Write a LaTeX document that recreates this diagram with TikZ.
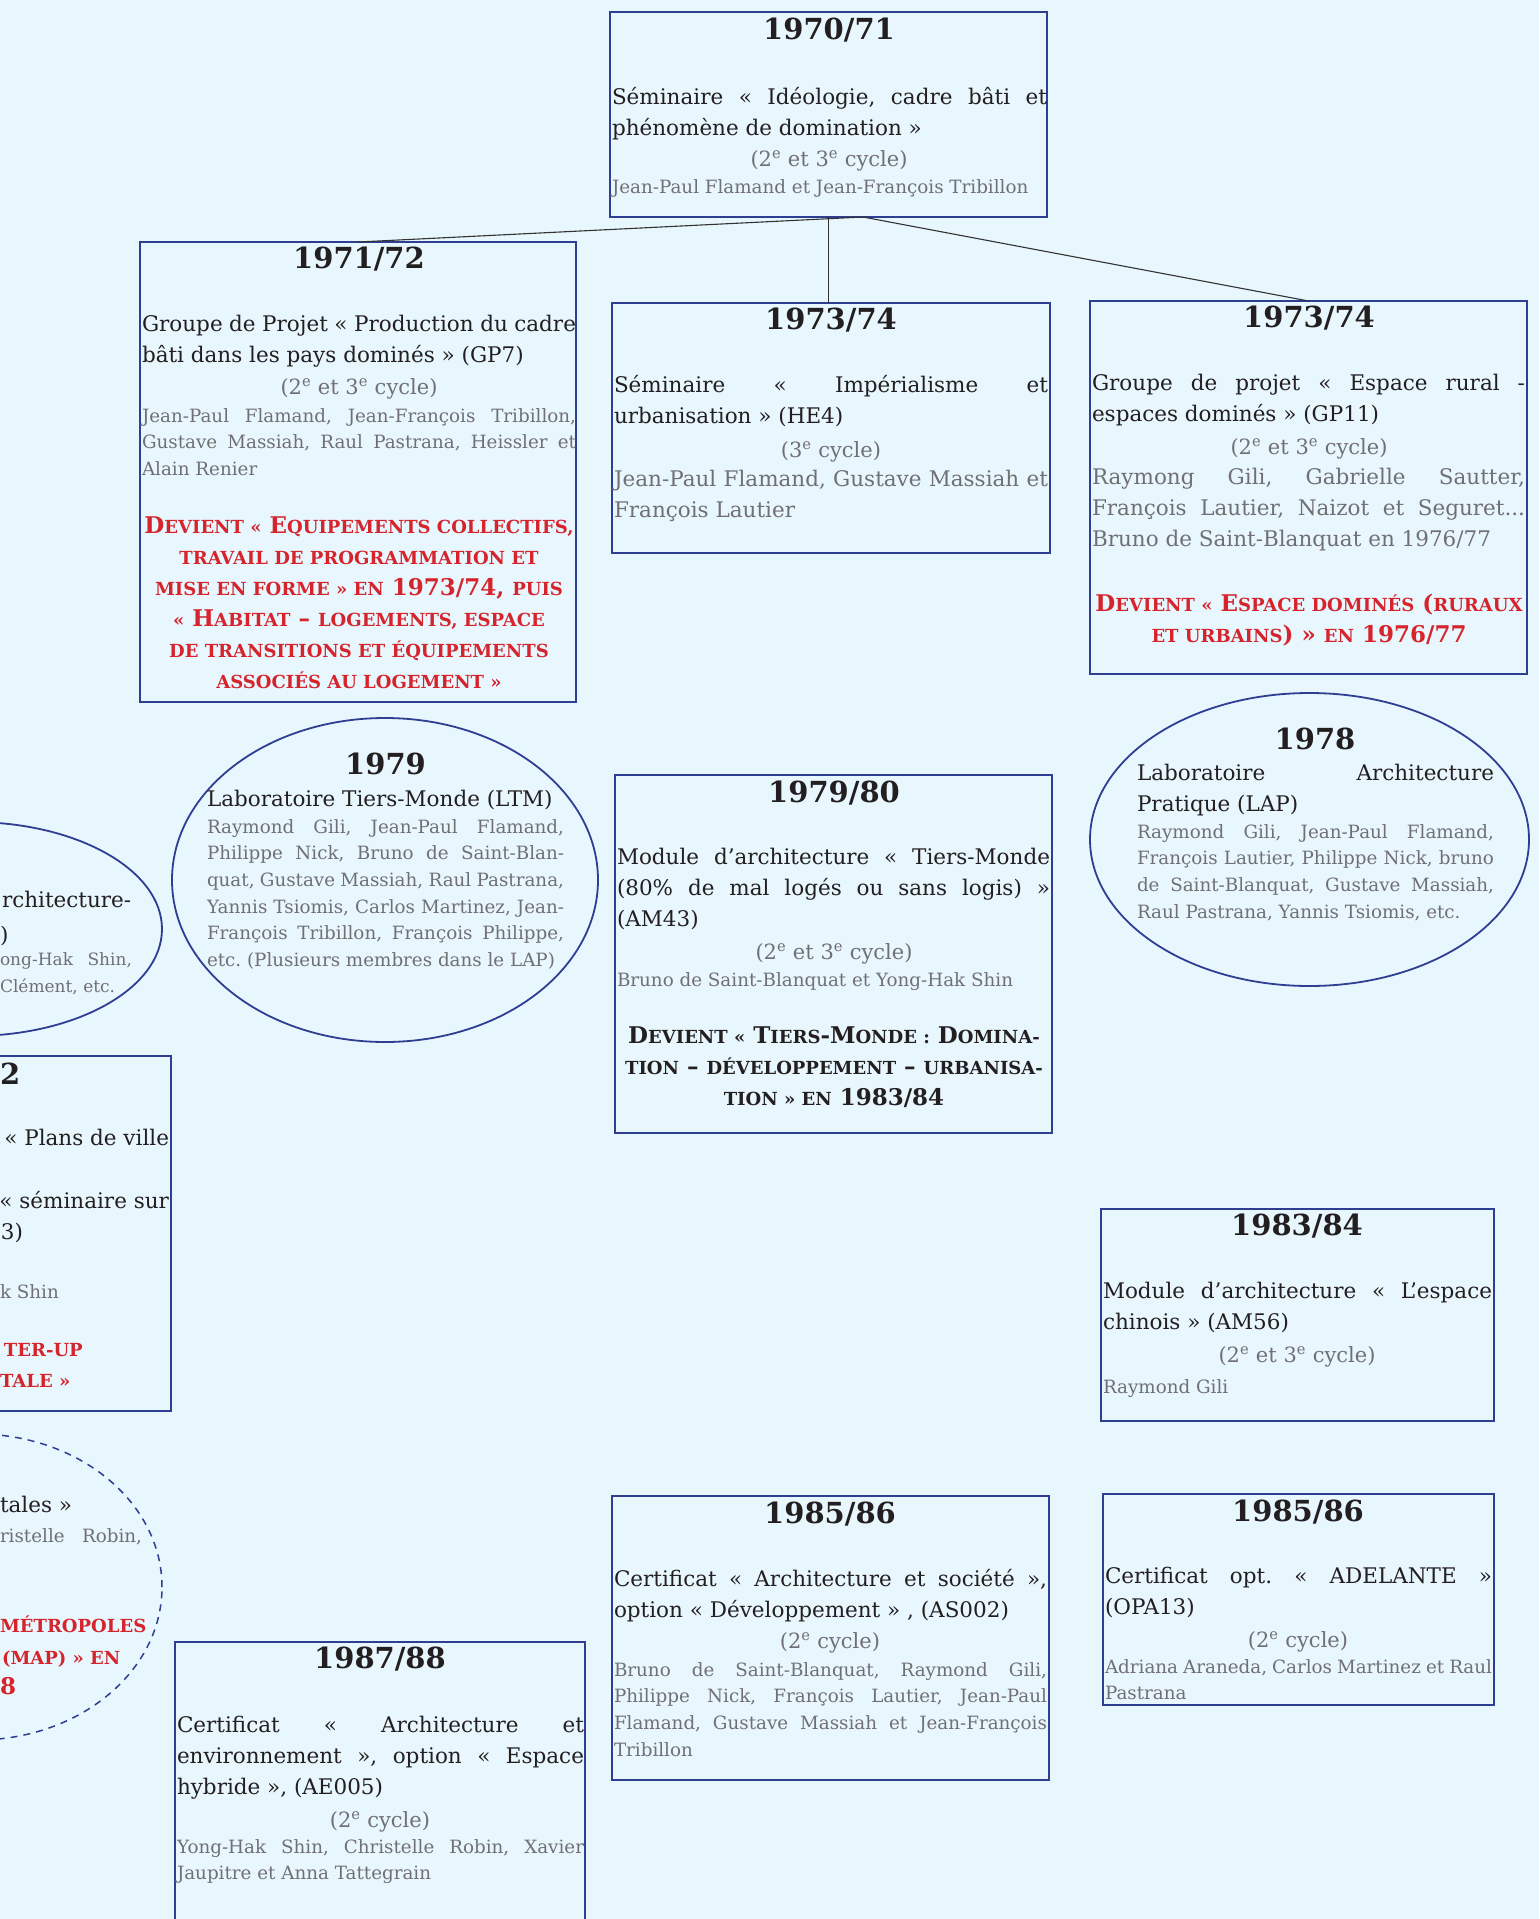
\documentclass[tikz,border=0pt]{standalone}
\usepackage{fontspec}
\setmainfont{DejaVu Serif}
\usetikzlibrary{shapes.geometric}
\definecolor{bgc}{RGB}{232,246,253}
\definecolor{bdcol}{RGB}{46,63,147}
\definecolor{txtk}{RGB}{35,31,32}
\definecolor{txtg}{RGB}{112,112,116}
\definecolor{redc}{RGB}{214,36,45}
\definecolor{lncol}{RGB}{50,50,50}
\frenchspacing
\newcommand\jl[2][\linewidth]{\makebox[#1][s]{#2}}
\newcommand\smc[1]{{\fontsize{18}{31}\selectfont #1}}
\newcommand\sups[1]{\textsuperscript{#1}}
\tikzset{
  every node/.style={inner sep=0pt, outer sep=0pt},
  boxst/.style={draw=bdcol, line width=1.8pt, rectangle, anchor=north west},
  ellst/.style={draw=bdcol, line width=1.8pt, ellipse},
  ttl/.style={font=\fontsize{29}{34}\selectfont\bfseries, text=txtk, anchor=base},
  bodyt/.style={font=\fontsize{21.5}{31}\selectfont, text=txtk, anchor=base west},
  namest/.style={font=\fontsize{18.3}{26.7}\selectfont, text=txtg, anchor=base west},
  namesbig/.style={font=\fontsize{21.5}{31}\selectfont, text=txtg, anchor=base west},
  cyc/.style={font=\fontsize{21}{26}\selectfont, text=txtg, anchor=base},
  redt/.style={font=\fontsize{23}{31}\selectfont\bfseries, text=redc, anchor=base},
  blkt/.style={font=\fontsize{23}{31}\selectfont\bfseries, text=txtk, anchor=base},
  conn/.style={draw=lncol, line width=1.1pt},
}
\begin{document}
\begin{tikzpicture}[x=1pt,y=-1pt]
\fill[bgc] (0,0) rectangle (1539,1919);
\useasboundingbox (0,0) rectangle (1539,1919);
\clip (0,0) rectangle (1539,1919);

% ---------- frames ----------
\node[boxst, minimum width=437pt, minimum height=205pt] (A) at (610,12) {};
\node[boxst, minimum width=436pt, minimum height=460pt] (B) at (140,242) {};
\node[boxst, minimum width=438pt, minimum height=250pt] (C) at (612,303) {};
\node[boxst, minimum width=437pt, minimum height=373pt] (D) at (1090,301) {};
\node[boxst, minimum width=437pt, minimum height=358pt] (E) at (615,775) {};
\node[boxst, minimum width=393pt, minimum height=212pt] (F) at (1101,1209) {};
\node[boxst, minimum width=391pt, minimum height=211pt] (G) at (1103,1494) {};
\node[boxst, minimum width=437pt, minimum height=284pt] (H) at (612,1496) {};
\node[boxst, minimum width=410pt, minimum height=320pt] (I) at (175,1642) {};
\node[boxst, minimum width=439pt, minimum height=355pt] (J) at (-268,1056) {};
\node[ellst, minimum width=426pt, minimum height=324pt] (LTM) at (385,880) {};
\node[ellst, minimum width=439pt, minimum height=293pt] (LAP) at (1309.5,839.5) {};
\node[ellst, minimum width=380pt, minimum height=214pt] (K) at (-28,929) {};
\node[ellst, dash pattern=on 7pt off 6pt, line width=1.5pt, minimum width=370pt, minimum height=306pt] (L) at (-23,1587) {};

% ---------- connectors ----------
\coordinate (Aj) at (863,217);
\draw[conn] (Aj) -- (B.north);
\draw[conn] (Aj) -- (D.north);
\draw[conn] (A.south) -- (A.south |- C.north);

% ---------- A : 1970/71 ----------
\node[ttl] (A0) at (829,40) {1970/71};
\node[bodyt] (A1) at (612,104) {\parbox[t]{435pt}{\jl{Séminaire « Idéologie, cadre bâti et}\\ phénomène de domination »}};
\node[cyc] (A2) at (829,166) {(2\sups{e} et 3\sups{e} cycle)};
\node[namest] (A3) at (612,193) {Jean-Paul Flamand et Jean-François Tribillon};

% ---------- B : 1971/72 ----------
\node[ttl] (B0) at (359,268) {1971/72};
\node[bodyt] (B1) at (142,331) {\parbox[t]{434pt}{\jl{Groupe de Projet « Production du cadre}\\ bâti dans les pays dominés » (GP7)}};
\node[cyc] (B2) at (359,394) {(2\sups{e} et 3\sups{e} cycle)};
\node[namest] (B3) at (142,422) {\parbox[t]{434pt}{\jl{Jean-Paul Flamand, Jean-François Tribillon,}\\ \jl{Gustave Massiah, Raul Pastrana, Heissler et}\\ Alain Renier}};
\node[redt] (B4) at (359,533) {\parbox[t]{434pt}{\centering
 D\smc{EVIENT «} E\smc{QUIPEMENTS COLLECTIFS,}\\
 \smc{TRAVAIL DE PROGRAMMATION ET}\\
 \smc{MISE EN FORME » EN} 1973/74, \smc{PUIS}\\
 \smc{«} H\smc{ABITAT} – \smc{LOGEMENTS, ESPACE}\\
 \smc{DE TRANSITIONS ET ÉQUIPEMENTS}\\
 \smc{ASSOCIÉS AU LOGEMENT »}}};

% ---------- C : 1973/74 ----------
\node[ttl] (C0) at (831,329) {1973/74};
\node[bodyt] (C1) at (614,392) {\parbox[t]{434pt}{\jl{Séminaire « Impérialisme et}\\ urbanisation » (HE4)}};
\node[cyc] (C2) at (831,457) {(3\sups{e} cycle)};
\node[namesbig] (C3) at (614,486) {\parbox[t]{434pt}{\jl{Jean-Paul Flamand, Gustave Massiah et}\\ François Lautier}};

% ---------- D : 1973/74 ----------
\node[ttl] (D0) at (1309,327) {1973/74};
\node[bodyt] (D1) at (1092,390) {\parbox[t]{433pt}{\jl{Groupe de projet « Espace rural -}\\ espaces dominés » (GP11)}};
\node[cyc] (D2) at (1309,454) {(2\sups{e} et 3\sups{e} cycle)};
\node[namesbig] (D3) at (1092,484) {\parbox[t]{433pt}{\jl{Raymong Gili, Gabrielle Sautter,}\\ \jl{François Lautier, Naizot et Seguret...}\\ Bruno de Saint-Blanquat en 1976/77}};
\node[redt] (D4) at (1309,611) {\parbox[t]{433pt}{\centering
 D\smc{EVIENT «} E\smc{SPACE DOMINÉS} (\smc{RURAUX}\\
 \smc{ET URBAINS}) » \smc{EN} 1976/77}};

% ---------- LTM : 1979 ----------
\node[ttl] (T0) at (385.5,774) {1979};
\node[bodyt] (T1) at (207,806) {Laboratoire Tiers-Monde (LTM)};
\node[namest] (T2) at (207,833) {\parbox[t]{357pt}{\jl{Raymond Gili, Jean-Paul Flamand,}\\ \jl{Philippe Nick, Bruno de Saint-Blan-}\\ \jl{quat, Gustave Massiah, Raul Pastrana,}\\ \jl{Yannis Tsiomis, Carlos Martinez, Jean-}\\ \jl{François Tribillon, François Philippe,}\\ etc. (Plusieurs membres dans le LAP)}};

% ---------- LAP : 1978 ----------
\node[ttl] (P0) at (1315,749) {1978};
\node[bodyt] (P1) at (1137,780) {\parbox[t]{357pt}{\jl{Laboratoire Architecture}\\ Pratique (LAP)}};
\node[namest] (P2) at (1137,838) {\parbox[t]{357pt}{\jl{Raymond Gili, Jean-Paul Flamand,}\\ \jl{François Lautier, Philippe Nick, bruno}\\ \jl{de Saint-Blanquat, Gustave Massiah,}\\ Raul Pastrana, Yannis Tsiomis, etc.}};

% ---------- E : 1979/80 ----------
\node[ttl] (E0) at (834,802) {1979/80};
\node[bodyt] (E1) at (617,864) {\parbox[t]{433pt}{\jl{Module d’architecture « Tiers-Monde}\\ \jl{(80\% de mal logés ou sans logis) »}\\ (AM43)}};
\node[cyc] (E2) at (834,959) {(2\sups{e} et 3\sups{e} cycle)};
\node[namest] (E3) at (617,986) {Bruno de Saint-Blanquat et Yong-Hak Shin};
\node[blkt] (E4) at (834,1043) {\parbox[t]{433pt}{\centering
 D\smc{EVIENT «} T\smc{IERS}-M\smc{ONDE :} D\smc{OMINA-}\\
 \smc{TION} – \smc{DÉVELOPPEMENT} – \smc{URBANISA-}\\
 \smc{TION » EN} 1983/84}};

% ---------- F : 1983/84 ----------
\node[ttl] (F0) at (1297,1235) {1983/84};
\node[bodyt] (F1) at (1103,1298) {\parbox[t]{389pt}{\jl{Module d’architecture « L’espace}\\ chinois » (AM56)}};
\node[cyc] (F2) at (1297,1362) {(2\sups{e} et 3\sups{e} cycle)};
\node[namest] (F3) at (1103,1393) {Raymond Gili};

% ---------- G : 1985/86 ----------
\node[ttl] (G0) at (1298,1521) {1985/86};
\node[bodyt] (G1) at (1105,1583) {\parbox[t]{387pt}{\jl{Certificat opt. « ADELANTE »}\\ (OPA13)}};
\node[cyc] (G2) at (1298,1647) {(2\sups{e} cycle)};
\node[namest] (G3) at (1105,1673) {\parbox[t]{387pt}{\jl{Adriana Araneda, Carlos Martinez et Raul}\\ Pastrana}};

% ---------- H : 1985/86 ----------
\node[ttl] (H0) at (830,1523) {1985/86};
\node[bodyt] (H1) at (614,1586) {\parbox[t]{433pt}{\jl{Certificat « Architecture et société »,}\\ option « Développement » , (AS002)}};
\node[cyc] (H2) at (830,1648) {(2\sups{e} cycle)};
\node[namest] (H3) at (614,1676) {\parbox[t]{433pt}{\jl{Bruno de Saint-Blanquat, Raymond Gili,}\\ \jl{Philippe Nick, François Lautier, Jean-Paul}\\ \jl{Flamand, Gustave Massiah et Jean-François}\\ Tribillon}};

% ---------- I : 1987/88 ----------
\node[ttl] (I0) at (380,1668) {1987/88};
\node[bodyt] (I1) at (177,1732) {\parbox[t]{407pt}{\jl{Certificat « Architecture et}\\ \jl{environnement », option « Espace}\\ hybride », (AE005)}};
\node[cyc] (I2) at (380,1827) {(2\sups{e} cycle)};
\node[namest] (I3) at (177,1853) {\parbox[t]{407pt}{\jl{Yong-Hak Shin, Christelle Robin, Xavier}\\ Jaupitre et Anna Tattegrain}};

% ---------- clipped box J (left edge) ----------
\node[ttl, anchor=base west] (J0) at (0,1084) {2};
\node[bodyt, anchor=base east] (J1) at (169,1145) {« Plans de ville};
\node[bodyt, anchor=base east] (J2) at (169,1208) {« séminaire sur};
\node[bodyt, anchor=base west] (J3) at (1,1239) {3)};
\node[namest, anchor=base west] (J4) at (0,1298) {k Shin};
\node[redt, anchor=base west] (J5) at (4,1356) {\smc{TER-UP}};
\node[redt, anchor=base west] (J6) at (0,1387) {\smc{TALE »}};

% ---------- clipped ellipse K (left edge) ----------
\node[bodyt, anchor=base west] (K1) at (2,907) {rchitecture-};
\node[bodyt, anchor=base west] (K2) at (0,942) {)};
\node[namest, font=\fontsize{17}{26}\selectfont, anchor=base west] (K3) at (0,965) {\makebox[132pt][s]{ong-Hak Shin,}};
\node[namest, font=\fontsize{17}{26}\selectfont, anchor=base west] (K4) at (0,992) {Clément, etc.};

% ---------- clipped dashed ellipse L (left edge) ----------
\node[bodyt, anchor=base west] (L1) at (0,1512) {tales »};
\node[namest, anchor=base west] (L2) at (0,1542) {\makebox[142pt][s]{ristelle Robin,}};
\node[redt, anchor=base west] (L3) at (0,1632) {\smc{MÉTROPOLES}};
\node[redt, anchor=base west] (L4) at (2,1664) {\smc{(MAP) » EN}};
\node[redt, anchor=base west] (L5) at (0,1694) {8};
\end{tikzpicture}
\end{document}
